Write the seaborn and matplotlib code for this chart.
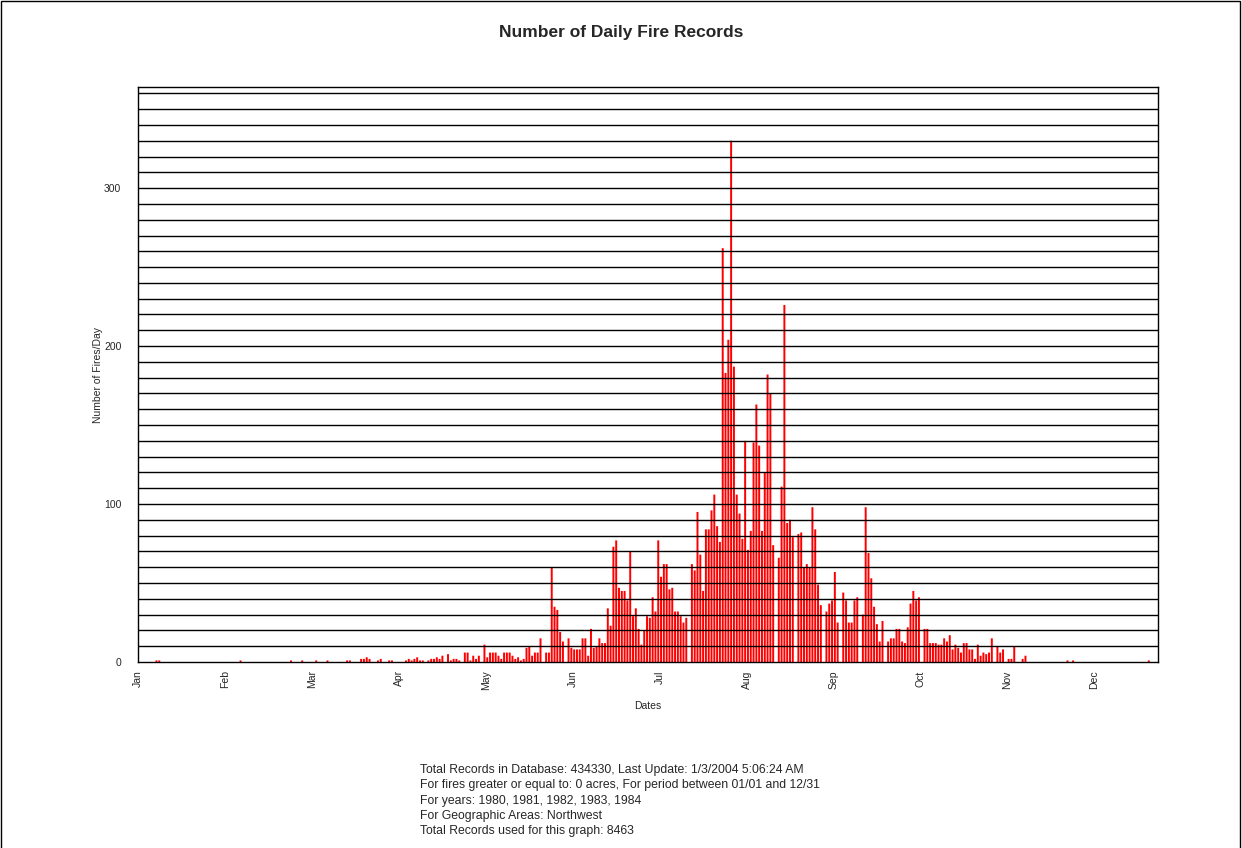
import numpy as np
import pandas as pd
import matplotlib
matplotlib.use("Agg")
import matplotlib.pyplot as plt
import seaborn as sns
from matplotlib.ticker import MultipleLocator

# -------------------------------
# Data: day of year -> fires
# -------------------------------
months = ["Jan", "Feb", "Mar", "Apr", "May", "Jun",
          "Jul", "Aug", "Sep", "Oct", "Nov", "Dec"]

early_days = [6, 7, 36, 54, 58, 63, 67, 74, 75, 79, 80, 81, 82, 85, 86,
              89, 90, 95, 96, 97, 98, 99, 100, 101, 103, 104, 105, 106, 107]
early_counts = [1, 1, 1, 1, 1, 1, 1, 1, 1, 2, 2, 3, 2, 1, 2,
                1, 1, 1, 2, 1, 2, 3, 1, 1, 1, 2, 2, 3, 2]

# consecutive days starting at day 108
season_start = 108
season_counts = [
    4, 0, 5, 1, 2, 2, 1, 0, 6, 6, 1, 4,                 # 108-119
    2, 4, 0, 11, 3, 6, 6, 6, 4, 2, 6, 6, 6, 4, 2, 3,    # 120-135
    1, 2, 9, 10, 4, 6, 6, 15, 0, 6, 6, 60, 35, 33, 19,  # 136-150
    13, 0, 15, 9, 8, 8, 8, 15, 15, 4, 21, 9, 10, 15,    # 151-164
    12, 12, 34, 23, 73, 77, 47, 45, 45, 39, 70, 29,     # 165-176
    34, 21, 11, 20, 29, 28, 41, 32, 77, 54, 62, 62,     # 177-188
    46, 47, 32, 32, 29, 25, 28, 0, 62, 58, 95, 68,      # 189-200
    45, 84, 84, 96, 106, 86, 76, 262, 183, 204, 330,    # 201-211
    187, 106, 94, 78, 140, 71, 83, 139, 163, 137, 83,   # 212-222
    120, 182, 170, 74, 0, 66, 111, 226, 88, 90, 79, 0,  # 223-234
    81, 82, 60, 62, 60, 98, 84, 49, 36, 0, 32, 37,      # 235-246
    39, 57, 25, 0, 44, 39, 25, 25, 39, 41, 0, 30,       # 247-258
    98, 69, 53, 35, 24, 13, 26, 0, 13, 15, 15, 21,      # 259-270
    21, 13, 12, 22, 37, 45, 39, 41, 0, 21, 21, 12,      # 271-282
    12, 12, 11, 11, 15, 13, 17, 8, 11, 9, 6, 12,        # 283-294
    12, 8, 8, 2, 11, 4, 6, 5, 6, 15, 0, 10,             # 295-306
    6, 8, 0, 2, 2, 10, 0, 0, 2, 4,                      # 307-316
]

late_days = [331, 333, 360]
late_counts = [1, 1, 1]

n_days = 364
counts = np.zeros(n_days)
counts[early_days] = early_counts
counts[season_start:season_start + len(season_counts)] = season_counts
counts[late_days] = late_counts

df = pd.DataFrame({"day": np.arange(n_days), "fires": counts})

footnote = ("Total Records in Database: 434330, Last Update: 1/3/2004 5:06:24 AM\n"
            "For fires greater or equal to: 0 acres, For period between 01/01 and 12/31\n"
            "For years: 1980, 1981, 1982, 1983, 1984\n"
            "For Geographic Areas: Northwest\n"
            "Total Records used for this graph: 8463")

# -------------------------------
# Plot
# -------------------------------
sns.set_style("white")
plt.rcParams["font.family"] = ["Liberation Sans", "DejaVu Sans"]

fig = plt.figure(figsize=(12.42, 8.48), dpi=100)
ax = fig.add_axes([0.1111, 0.2193, 0.8213, 0.6781])

sns.barplot(data=df, x="day", y="fires", native_scale=True,
            color="#ff0000", saturation=1, errorbar=None, ax=ax,
            linewidth=0, edgecolor="none", zorder=2)

# make each bar about 0.7 day wide, centred on its day
for p in ax.patches:
    cx = p.get_x() + p.get_width() / 2
    p.set_width(0.7)
    p.set_x(cx - 0.35)
    p.set_snap(False)
    p.set_antialiased(True)

ax.set_xlim(-0.6, 363.3)
ax.set_ylim(0, 364)

ax.set_xticks([31 * k - 0.5 for k in range(12)])
ax.set_xticklabels(months, rotation=90, fontsize=7.5)
ax.set_yticks([0, 100, 200, 300])
ax.set_yticklabels(["0", "100", "200", "300"], fontsize=7.5)
ax.yaxis.set_minor_locator(MultipleLocator(10))
ax.tick_params(axis="x", which="major", direction="out", length=3,
               width=1, color="black", pad=3)
ax.tick_params(axis="y", which="major", direction="out", length=3,
               width=1, color="black", pad=9)
ax.tick_params(axis="y", which="minor", length=0)

for v in range(10, 370, 10):
    ax.axhline(v, color="black", lw=1.0, zorder=3)

for s in ax.spines.values():
    s.set_color("black")
    s.set_linewidth(1.0)
    s.set_zorder(4)

ax.set_xlabel("Dates", fontsize=7.5, labelpad=8)
ax.set_ylabel("Number of Fires/Day", fontsize=7.5, labelpad=1)

fig.text(0.5, 0.962, "Number of Daily Fire Records", ha="center",
         va="center", fontsize=12.5, fontweight="bold")
fig.text(0.338, 0.056, footnote, ha="left", va="center", fontsize=8.8,
         linespacing=1.38)

# border around the whole image
fig.add_artist(plt.Rectangle((0.0008, -0.01), 0.9976, 1.0092,
                             transform=fig.transFigure, fill=False,
                             edgecolor="black", lw=1.0))

fig.savefig("out.png", dpi=100)
